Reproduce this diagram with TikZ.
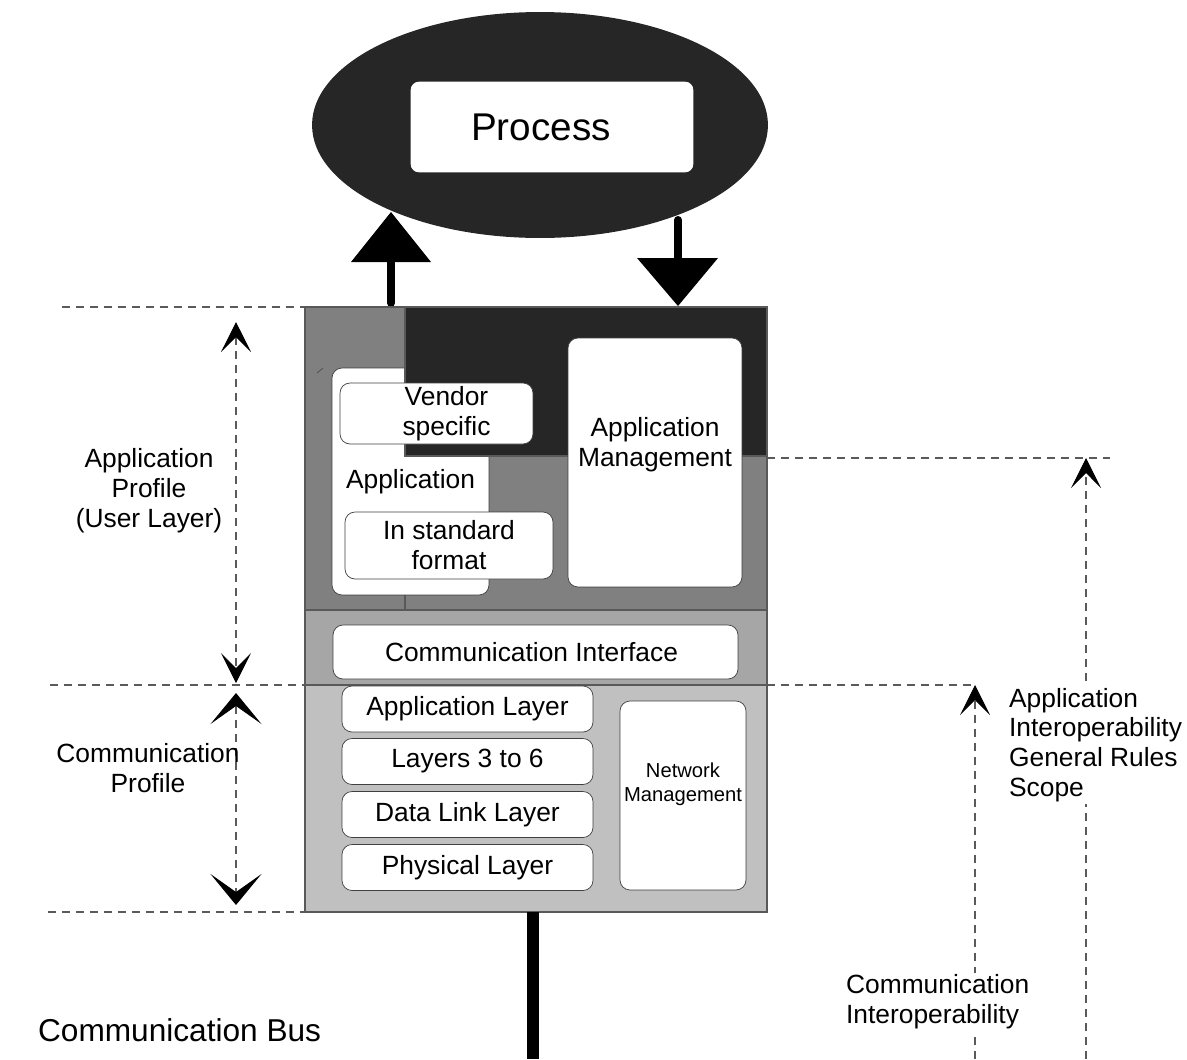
\documentclass[tikz,border=0pt]{standalone}
\usepackage{fontspec}
\setmainfont{Liberation Sans}
\usetikzlibrary{shapes.geometric,arrows.meta}
\definecolor{darkfill}{HTML}{262626}
\definecolor{midgray}{HTML}{808080}
\definecolor{cigray}{HTML}{A6A6A6}
\definecolor{lowgray}{HTML}{C0C0C0}
\definecolor{guidegray}{HTML}{5A5A5A}
\begin{document}
\begin{tikzpicture}[x=0.02cm,y=-0.02cm,
    box/.style={draw=black!75, fill=white, rounded corners=0.2cm, inner sep=0pt,
      align=center, font=\fontsize{15}{17}\selectfont},
    panel/.style={draw=black!65, line width=0.6pt},
    guide/.style={guidegray, dash pattern=on 0.16cm off 0.12cm, line width=0.6pt},
    lbl/.style={font=\fontsize{15}{17}\selectfont, align=center, inner sep=1pt},
    bigarrow/.style={line width=0.16cm, line cap=round},
    narrowhead/.tip={Stealth[length=0.6cm, width=0.6cm, inset=0.3cm, black]},
    widehead/.tip={Stealth[length=0.62cm, width=1.02cm, inset=0.36cm, black]}]
  \useasboundingbox (0,0) rectangle (1187,1059);

  % Process
  \node[ellipse, fill=darkfill, inner sep=0pt, minimum width=9.12cm,
    minimum height=4.52cm] (blob) at (540,125) {};
  \node[box, draw=white, rounded corners=0.16cm, minimum width=5.64cm,
    minimum height=1.8cm, font=\fontsize{22}{26}\selectfont] (proc) at (552,127)
    {\hspace*{-0.44cm}Process};

  % Arrows to and from the process
  \coordinate (up-foot) at (391,303);
  \coordinate (up-neck) at (391,262);
  \coordinate (up-tip) at (391,212);
  \draw[bigarrow] (up-foot) -- (up-neck);
  \fill (up-tip) -- ([xshift=-0.8cm]up-neck) -- ([xshift=0.8cm]up-neck) -- cycle;

  \coordinate (down-top) at (678,220);
  \coordinate (down-neck) at (678,258);
  \coordinate (down-tip) at (678,306);
  \draw[bigarrow] (down-top) -- (down-neck);
  \fill (down-tip) -- ([xshift=-0.82cm]down-neck) -- ([xshift=0.8cm]down-neck) -- cycle;

  % Stack background
  \filldraw[panel, fill=midgray] (305,307) rectangle (405,610);
  \filldraw[panel, fill=midgray] (405,456) rectangle (767,610);
  \filldraw[panel, fill=cigray] (305,610) rectangle (767,685);
  \filldraw[panel, fill=lowgray] (305,685) rectangle (767,912);

  % Application profile
  \node[box, minimum width=3.14cm, minimum height=4.54cm] (app) at (410.5,481.5) {Application};
  \filldraw[panel, fill=darkfill] (405,307) rectangle (767,456);
  \draw[black!70] (317,373) -- (323,368);
  \node[box, minimum width=3.86cm, minimum height=1.22cm] (vendor) at (436.5,413.5)
    {\hspace*{0.4cm}Vendor\\\hspace*{0.4cm}specific};
  \node[box, minimum width=4.16cm, minimum height=1.34cm] (std) at (449,545.5)
    {In standard\\format};
  \node[box, minimum width=3.48cm, minimum height=4.98cm,
    label={[lbl, yshift=0.36cm]center:Application\\Management}] (appmgmt) at (655,462.5) {};

  % Communication profile
  \node[box, minimum width=8.1cm, minimum height=1.08cm] (ci) at (535.5,652) {\hspace*{-0.16cm}Communication Interface};
  \node[box, minimum width=5.02cm, minimum height=0.92cm] (al) at (467.5,709) {Application Layer};
  \node[box, minimum width=5.02cm, minimum height=0.92cm] (l36) at (467.5,761.5) {Layers 3 to 6};
  \node[box, minimum width=5.02cm, minimum height=0.92cm] (dll) at (467.5,814.5) {Data Link Layer};
  \node[box, minimum width=5.02cm, minimum height=0.92cm] (phy) at (467.5,867.5) {Physical Layer};
  \node[box, minimum width=2.52cm, minimum height=3.78cm,
    font=\fontsize{11.5}{13.5}\selectfont] (netmgmt) at (683,795.5) {Network\\Management\\[0.05cm]};

  % Bus
  \coordinate (bus-top) at (533,912);
  \coordinate (bus-end) at (533,1059);
  \draw[line width=0.24cm] (bus-top) -- (bus-end);

  % Guide lines
  \draw[guide] (62,307) -- (305,307);
  \draw[guide] (50,685) -- (305,685);
  \draw[guide] (767,685) -- (975,685);
  \draw[guide] (48,912) -- (305,912);
  \draw[guide] (767,458) -- (1110,458);

  % Dimension arrows
  \coordinate (ap-top) at (236,322);
  \coordinate (ap-bot) at (236,683);
  \coordinate (cp-top) at (236,693);
  \coordinate (cp-bot) at (236,905);
  \coordinate (ai-top) at (1086,458);
  \coordinate (ai-bot) at (1086,1059);
  \coordinate (co-top) at (975,685);
  \coordinate (co-bot) at (975,1059);
  \draw[guide, narrowhead-narrowhead] (ap-top) -- (ap-bot);
  \draw[guide, widehead-widehead] (cp-top) -- (cp-bot);
  \draw[guide, -narrowhead] (ai-bot) -- (ai-top);
  \draw[guide, -narrowhead] (co-bot) -- (co-top);

  % Labels
  \node[lbl] (ap-lbl) at (149,491) {Application\\Profile\\(User Layer)};
  \node[lbl] (cp-lbl) at (148,768) {Communication\\Profile};
  \node[lbl, anchor=west, align=left, fill=white] (ai-lbl) at (1007,745)
    {Application\\Interoperability\\General Rules\\Scope};
  \node[lbl, anchor=west, align=left, fill=white] (co-lbl) at (844,1002)
    {Communication\\Interoperability};
  \node[lbl, anchor=west, font=\fontsize{18}{21}\selectfont] (bus-lbl) at (36,1030) {Communication Bus};
\end{tikzpicture}
\end{document}
